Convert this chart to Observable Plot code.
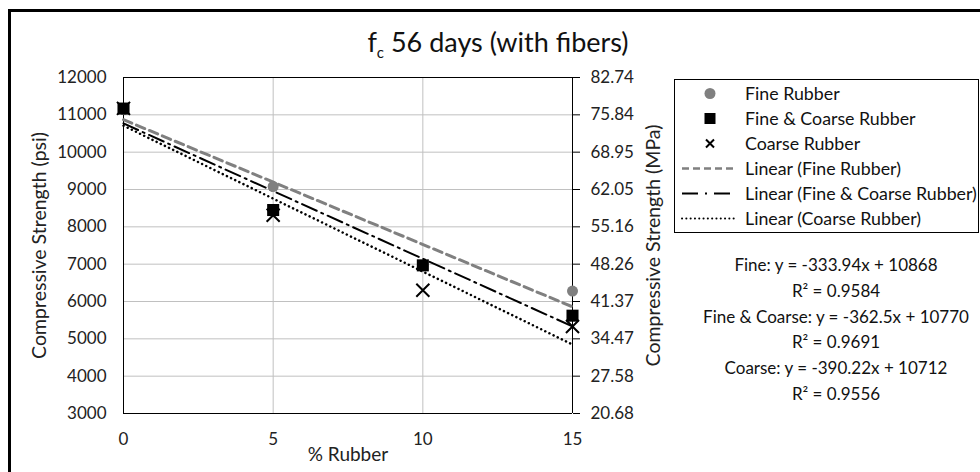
<!DOCTYPE html>
<html>
<head>
<meta charset="utf-8">
<script src="https://cdn.jsdelivr.net/npm/d3@7"></script>
<script src="https://cdn.jsdelivr.net/npm/@observablehq/plot@0.6"></script>
<style>
  html, body { margin: 0; padding: 0; background: #fff; overflow: hidden; }
  #wrap { position: relative; width: 980px; height: 472px; overflow: hidden; font-family: Lato, "Open Sans", sans-serif; color: #000; }
  #border { position: absolute; left: 8px; top: 9px; width: 1100px; height: 600px; border-left: 3px solid #000; border-top: 3px solid #000; box-sizing: border-box; }
  #chart { position: absolute; left: 0; top: 0; }
  #title { position: absolute; left: 0; width: 996px; top: 25px; text-align: center; font-size: 27px; color: #111; }
  #title sub { font-size: 15px; vertical-align: -6px; line-height: 0; }
  #legend { position: absolute; left: 674px; top: 79px; width: 305px; height: 154px; border: 1.5px solid #000; box-sizing: border-box; background: #fff; }
  .row { position: absolute; left: 0; height: 25px; line-height: 25px; font-size: 17.8px; white-space: nowrap; color: #111; }
  .row svg { position: absolute; left: 6px; top: 0; }
  .row span { position: absolute; left: 70px; }
  #eq { position: absolute; left: 688px; width: 296px; top: 252px; text-align: center; font-size: 17px; line-height: 25.8px; color: #111; }
</style>
</head>
<body>
<div id="wrap">
  <div id="border"></div>
  <div id="chart"></div>
  <div id="title">f<sub>c</sub> 56 days (with fibers)</div>
  <div id="legend"></div>
  <div id="eq"></div>
</div>
<script>
// ---- data ----
const rubberPct = [0, 5, 10, 15];
const fineRubber = [11140, 9080, 6955, 6280];
const fineCoarseRubber = [11168, 8450, 6968, 5620];
const coarseRubber = [11173, 8310, 6300, 5330];
const seriesNames = ["Fine Rubber", "Fine & Coarse Rubber", "Coarse Rubber"];
const psiTicks = [3000, 4000, 5000, 6000, 7000, 8000, 9000, 10000, 11000, 12000];
const mpaLabels = ["20.68", "27.58", "34.47", "41.37", "48.26", "55.16", "62.05", "68.95", "75.84", "82.74"];
const xTicks = [0, 5, 10, 15];
const legendLabels = ["Fine Rubber", "Fine & Coarse Rubber", "Coarse Rubber",
  "Linear (Fine Rubber)", "Linear (Fine & Coarse Rubber)", "Linear (Coarse Rubber)"];
const equationLines = ["Fine: y = -333.94x + 10868", "R² = 0.9584",
  "Fine & Coarse: y = -362.5x + 10770", "R² = 0.9691",
  "Coarse: y = -390.22x + 10712", "R² = 0.9556"];

const rows = [];
[fineRubber, fineCoarseRubber, coarseRubber].forEach((vals, s) =>
  vals.forEach((v, i) => rows.push({x: rubberPct[i], y: v, series: seriesNames[s]})));
const bySeries = name => rows.filter(d => d.series === name);

const gray = "#808080";
const txt = "#222";

const chart = Plot.plot({
  width: 980, height: 472,
  marginLeft: 123, marginRight: 408, marginTop: 77, marginBottom: 59,
  style: {fontFamily: "Lato, 'Open Sans', sans-serif", fontSize: "17px", color: "#000", background: "transparent", overflow: "visible"},
  x: {domain: [0, 15]},
  y: {domain: [3000, 12000]},
  marks: [
    Plot.gridY(psiTicks, {stroke: "#c0c0c0", strokeOpacity: 1}),
    Plot.gridX([5, 10], {stroke: "#c0c0c0", strokeOpacity: 1}),
    Plot.ruleY([12000], {stroke: "#000", strokeWidth: 1}),
    Plot.ruleY([3000], {stroke: "#000", strokeWidth: 1}),
    Plot.ruleX([0], {stroke: "#000", strokeWidth: 1}),
    Plot.ruleX([15], {stroke: "#000", strokeWidth: 1}),
    Plot.axisX(xTicks, {tickSize: 0, tickPadding: 19, label: null, fill: txt, fontSize: 17}),
    Plot.axisY(psiTicks, {anchor: "left", tickSize: 0, tickPadding: 17, tickFormat: d => String(d), label: null, fill: txt, fontSize: 17}),
    Plot.axisY(psiTicks, {anchor: "right", tickSize: 7, tickPadding: 11, tickFormat: d => mpaLabels[psiTicks.indexOf(d)], label: null, fill: txt, fontSize: 17}),
    Plot.text(["% Rubber"], {frameAnchor: "bottom", dy: 47, fontSize: 19, fill: txt, textAnchor: "middle"}),
    Plot.text(["Compressive Strength (psi)"], {frameAnchor: "left", dx: -84, rotate: -90, fontSize: 19.5, fill: txt, textAnchor: "middle"}),
    Plot.text(["Compressive Strength (MPa)"], {frameAnchor: "right", dx: 81, rotate: -90, fontSize: 19.5, fill: txt, textAnchor: "middle"}),
    Plot.linearRegressionY(bySeries("Fine Rubber"), {x: "x", y: "y", ci: 0, stroke: gray, strokeWidth: 3, strokeDasharray: "9,5"}),
    Plot.linearRegressionY(bySeries("Fine & Coarse Rubber"), {x: "x", y: "y", ci: 0, stroke: "#000", strokeWidth: 2, strokeDasharray: "16,5,2,5"}),
    Plot.linearRegressionY(bySeries("Coarse Rubber"), {x: "x", y: "y", ci: 0, stroke: "#000", strokeWidth: 2.5, strokeDasharray: "0.1,4.5", strokeLinecap: "round"}),
    Plot.dot(bySeries("Fine Rubber"), {x: "x", y: "y", r: 5.5, fill: gray, symbol: "circle"}),
    Plot.dot(bySeries("Fine & Coarse Rubber"), {x: "x", y: "y", r: 6.8, fill: "#000", symbol: "square"}),
    Plot.dot(bySeries("Coarse Rubber"), {x: "x", y: "y", r: 6, stroke: "#000", strokeWidth: 2, symbol: "times"})
  ]
});
document.getElementById("chart").appendChild(chart);

// legend
const legend = document.getElementById("legend");
const swatches = [
  '<circle cx="29" cy="12.5" r="5.5" fill="' + gray + '"/>',
  '<rect x="23.5" y="7" width="11" height="11" fill="#000"/>',
  '<path d="M25 8.5L33 16.5M33 8.5L25 16.5" stroke="#000" stroke-width="2"/>',
  '<line x1="1" x2="56" y1="12.5" y2="12.5" stroke="' + gray + '" stroke-width="2.5" stroke-dasharray="7,4"/>',
  '<line x1="1" x2="56" y1="12.5" y2="12.5" stroke="#000" stroke-width="2" stroke-dasharray="16,7,2,7"/>',
  '<line x1="1" x2="56" y1="12.5" y2="12.5" stroke="#000" stroke-width="2" stroke-dasharray="0.1,4.2" stroke-linecap="round"/>'
];
legendLabels.forEach((lab, i) => {
  const r = document.createElement("div");
  r.className = "row";
  r.style.top = (1 + i * 25) + "px";
  r.innerHTML = '<svg width="60" height="25">' + swatches[i] + '</svg><span></span>';
  r.querySelector("span").textContent = lab;
  legend.appendChild(r);
});

// equations
const eq = document.getElementById("eq");
equationLines.forEach(t => {
  const d = document.createElement("div");
  d.textContent = t;
  eq.appendChild(d);
});
</script>
</body>
</html>
